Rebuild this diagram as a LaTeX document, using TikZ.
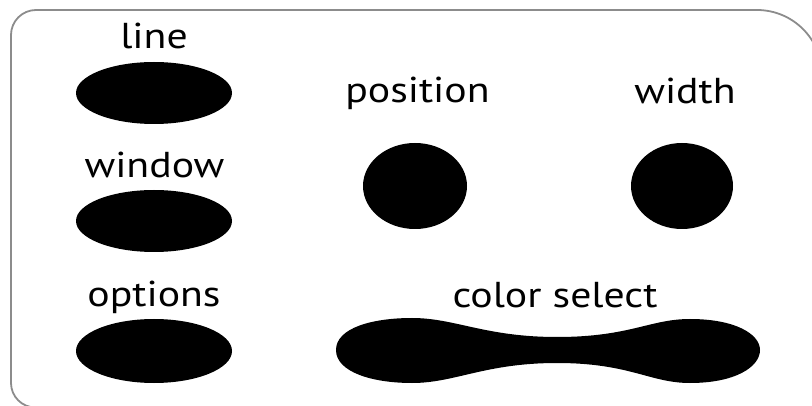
\documentclass[tikz,border=0pt]{standalone}
\usepackage{fontspec}
\setmainfont[FakeStretch=1.16]{PT Sans}
\begin{document}
\begin{tikzpicture}[x=1pt,y=-1pt,
  border/.style={draw=black!45,line width=1.8pt},
  blob/.style={fill=black},
  lbl/.style={anchor=base,inner sep=0pt,font=\fontsize{36}{40}\selectfont}]
\useasboundingbox (0,0) rectangle (812,406);
\begin{scope}
\clip (0,0) rectangle (812,406);
\draw[border] (11,383) -- (11,35) .. controls (11,21.2) and (22.2,10) .. (36,10)
  -- (757,10) .. controls (792.9,10) and (822,39.1) .. (822,75)
  -- (822,407.5) -- (35.5,407.5) .. controls (22,407.5) and (11,396.5) .. (11,383) -- cycle;
\end{scope}
% labels
\node[lbl] (tline) at (154,49) {line};
\node[lbl] (twindow) at (154.5,178) {window};
\node[lbl] (toptions) at (154,307) {options};
\node[lbl] (tposition) at (417.5,103) {position};
\node[lbl] (twidth) at (685,104) {width};
\node[lbl] (tcolor) at (555,308) {color select};
% shapes
\fill[blob] (154,93) ellipse[x radius=78,y radius=31];
\fill[blob] (154,221) ellipse[x radius=78,y radius=31];
\fill[blob] (154,351) ellipse[x radius=78,y radius=32];
\fill[blob] (415,186) ellipse[x radius=52,y radius=43];
\fill[blob] (682,186) ellipse[x radius=51,y radius=43];
\fill[blob] (336,350) .. controls (336,328) and (372,318) .. (412,318)
  .. controls (455,318) and (485,337) .. (557,337)
  .. controls (630,337) and (650,319) .. (690,319)
  .. controls (735,319) and (760,334) .. (760,350)
  .. controls (760,367) and (735,383) .. (690,383)
  .. controls (650,383) and (630,363) .. (557,363)
  .. controls (485,363) and (455,383) .. (412,383)
  .. controls (372,383) and (336,372) .. (336,350) -- cycle;
\end{tikzpicture}
\end{document}
